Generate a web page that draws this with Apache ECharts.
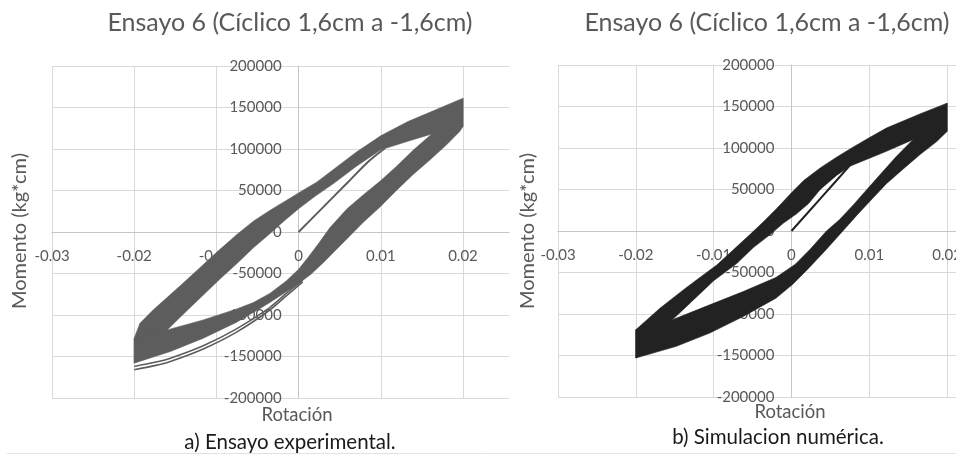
<!DOCTYPE html>
<html><head><meta charset="utf-8">
<script src="https://cdn.jsdelivr.net/npm/echarts@6/dist/echarts.min.js"></script>
<style>html,body{margin:0;padding:0;background:#fff}#c{width:956px;height:455px}</style>
</head><body><div id="c"></div>
<script>
// ---- tick labels ----
var xTickLabels = ['-0.03', '-0.02', '-0.01', '0', '0.01', '0.02'];
var yTickLabels = ['-200000', '-150000', '-100000', '-50000', '0', '50000', '100000', '150000', '200000'];

// ---- a) Ensayo experimental (rotation, moment) ----
var expUpperOuter = [[-0.02,-128000],[-0.0193,-110000],[-0.0177,-94000],[-0.016,-79000],[-0.0142,-63000],[-0.012,-43000],[-0.0098,-23000],[-0.0075,-3000],[-0.0055,13000],[-0.0035,26000],[-0.0015,38000],[0.0005,50000],[0.0022,60000],[0.0042,75000],[0.007,96000],[0.01,116000],[0.0133,133000],[0.0164,146000],[0.019,157000],[0.02,161000]];
var expUpperInner = [[-0.016,-118000],[-0.0136,-95000],[-0.0116,-76000],[-0.0096,-57000],[-0.0075,-38000],[-0.0055,-19000],[-0.0035,-2000],[-0.0018,13000],[0,28000],[0.002,43000],[0.0042,58000],[0.007,79000],[0.01,99000],[0.0135,110000],[0.0162,118000]];
var expLowerOuter = [[0.02,127000],[0.0196,121000],[0.018,105000],[0.016,87000],[0.0139,69000],[0.0119,50000],[0.0099,30000],[0.0079,12000],[0.0062,-5000],[0.0045,-22000],[0.003,-37000],[0.0015,-51000],[0,-62000],[-0.0015,-72000],[-0.0035,-85000],[-0.005,-94000],[-0.0076,-109000],[-0.0116,-128000],[-0.0156,-144000],[-0.0175,-150000],[-0.02,-158000]];
var expLowerInner = [[-0.016,-118000],[-0.0116,-106000],[-0.0076,-93000],[-0.0055,-85000],[-0.0035,-74000],[-0.0015,-59000],[0,-45000],[0.0012,-30000],[0.0025,-13000],[0.0038,5000],[0.0059,28000],[0.0079,45000],[0.0099,61000],[0.0119,79000],[0.014,99000],[0.0162,118000]];
var expInitial = [[0,0],[0.003,30000],[0.006,60000],[0.0085,85000],[0.0105,101000]];
var expFirstCycleA = [[-0.02,-166000],[-0.0175,-161000],[-0.0156,-156000],[-0.0116,-141000],[-0.0076,-121000],[-0.0035,-94000],[-0.0015,-77000],[0.0005,-60000]];
var expFirstCycleB = [[-0.02,-162000],[-0.0175,-157000],[-0.0156,-152000],[-0.0116,-137000],[-0.0076,-117000],[-0.0035,-91000],[-0.0015,-74000],[0.0005,-58000]];

// ---- b) Simulacion numerica ----
var simUpperOuter = [[-0.02,-119000],[-0.0169,-93000],[-0.0139,-71000],[-0.0122,-59000],[-0.0096,-41000],[-0.0075,-23000],[-0.0053,-4000],[-0.0036,11000],[-0.0019,27000],[0,46000],[0.0016,61000],[0.0037,76000],[0.0058,89000],[0.0079,101000],[0.0101,113000],[0.0122,124000],[0.0165,141000],[0.02,154000]];
var simUpperInner = [[-0.0153,-107000],[-0.0126,-83000],[-0.01,-60000],[-0.007,-39000],[-0.0049,-20000],[-0.0027,-4000],[-0.0011,9000],[0.0007,21000],[0.0022,33000],[0.0037,50000],[0.0058,67000],[0.0075,78000],[0.0101,88000],[0.0122,96000],[0.0156,110000]];
var simLowerOuter = [[0.02,120000],[0.0187,108000],[0.0165,92000],[0.0144,75000],[0.0122,57000],[0.0105,40000],[0.0085,20000],[0.0066,0],[0.0045,-22000],[0.0023,-44000],[0.0002,-64000],[-0.002,-81000],[-0.0062,-103000],[-0.0105,-123000],[-0.0148,-139000],[-0.02,-153000]];
var simLowerInner = [[-0.0153,-107000],[-0.0105,-89000],[-0.0062,-73000],[-0.002,-56000],[0.0005,-40000],[0.0024,-22000],[0.0045,0],[0.0062,14000],[0.008,32000],[0.0095,48000],[0.0114,68000],[0.0135,90000],[0.0156,110000]];
var simInitial = [[0,0],[0.004,42000],[0.0078,82000]];

// ---- build band polygons from the envelopes ----
function bands(uo, ui, lo, li) {
  var up = uo.concat([lo[0]], ui.slice().reverse(), [lo[lo.length - 1]]);
  var low = lo.concat([uo[0]], li, [uo[uo.length - 1]]);
  return [up, low];
}
var expBands = bands(expUpperOuter, expUpperInner, expLowerOuter, expLowerInner);
var simBands = bands(simUpperOuter, simUpperInner, simLowerOuter, simLowerInner);

var FONT = 'Lato';
var GRID = '#d9d9d9', AXIS = '#c6c6c6', TXT = '#595959';

function xFmt(v) {
  var i = Math.round((v + 0.03) / 0.01);
  if (Math.abs(v - (-0.03 + i * 0.01)) > 1e-7) return '';
  return xTickLabels[i] || '';
}
function yFmt(v) {
  var i = Math.round((v + 200000) / 50000);
  return yTickLabels[i] || '';
}
// axes are moved onto the zero lines with offsets (grid height 332 -> half 166)
function xAxis(idx, max) {
  return {
    type: 'value', gridIndex: idx, min: -0.03, max: max, interval: 0.01, position: 'bottom', offset: -166,
    axisLine: { onZero: false, lineStyle: { color: AXIS, width: 1 } },
    axisTick: { show: false },
    splitLine: { show: true, showMaxLine: false, lineStyle: { color: GRID, width: 1 } },
    axisLabel: { formatter: xFmt, color: TXT, fontFamily: FONT, fontSize: 15, margin: 17 }
  };
}
function yAxis(idx, off) {
  return {
    type: 'value', gridIndex: idx, min: -200000, max: 200000, interval: 50000, position: 'left', offset: off,
    axisLine: { onZero: false, lineStyle: { color: AXIS, width: 1 } },
    axisTick: { show: false },
    splitLine: { show: true, lineStyle: { color: GRID, width: 1 } },
    axisLabel: { formatter: yFmt, color: TXT, fontFamily: FONT, fontSize: 15, margin: 17 }
  };
}
function bandSeries(idx, polys, color) {
  return {
    type: 'custom', xAxisIndex: idx, yAxisIndex: idx, data: [0], silent: true, z: 3,
    renderItem: function (params, api) {
      return {
        type: 'group',
        children: polys.map(function (p) {
          return { type: 'polygon', shape: { points: p.map(function (pt) { return api.coord(pt); }) },
                   style: { fill: color, stroke: color, lineWidth: 0.6, lineJoin: 'round' } };
        })
      };
    }
  };
}
function lineSeries(idx, data, color, w) {
  return { type: 'line', xAxisIndex: idx, yAxisIndex: idx, data: data, showSymbol: false, smooth: 0.3,
           silent: true, z: 3, lineStyle: { color: color, width: w } };
}

var EXP = '#5d5d5d', SIM = '#222222';
var option = {
  animation: false,
  backgroundColor: '#ffffff',
  grid: [
    { left: 52, top: 66, width: 457, height: 332, outerBoundsMode: 'none', containLabel: false },
    { left: 558, top: 65, width: 428, height: 332, outerBoundsMode: 'none', containLabel: false }
  ],
  xAxis: [xAxis(0, 0.0256), xAxis(1, 0.025)],
  yAxis: [yAxis(0, -246.6), yAxis(1, -233.4)],
  series: [
    bandSeries(0, expBands, EXP),
    lineSeries(0, expInitial, EXP, 2),
    lineSeries(0, expFirstCycleA, EXP, 1.6),
    lineSeries(0, expFirstCycleB, EXP, 1.6),
    bandSeries(1, simBands, SIM),
    lineSeries(1, simInitial, SIM, 2)
  ],
  graphic: [
    { type: 'text', x: 290, y: 23, style: { text: 'Ensayo 6 (Cíclico 1,6cm a -1,6cm)', font: '25px Lato', fill: TXT, textAlign: 'center', textVerticalAlign: 'middle' } },
    { type: 'text', x: 767, y: 23, style: { text: 'Ensayo 6 (Cíclico 1,6cm a -1,6cm)', font: '25px Lato', fill: TXT, textAlign: 'center', textVerticalAlign: 'middle' } },
    { type: 'text', x: 20, y: 231, rotation: Math.PI / 2, style: { text: 'Momento (kg*cm)', font: '20px Lato', fill: TXT, textAlign: 'center', textVerticalAlign: 'middle' } },
    { type: 'text', x: 528, y: 231, rotation: Math.PI / 2, style: { text: 'Momento (kg*cm)', font: '20px Lato', fill: TXT, textAlign: 'center', textVerticalAlign: 'middle' } },
    { type: 'text', x: 297, y: 415, style: { text: 'Rotación', font: '18.5px Lato', fill: TXT, textAlign: 'center', textVerticalAlign: 'middle' } },
    { type: 'text', x: 790, y: 412, style: { text: 'Rotación', font: '18.5px Lato', fill: TXT, textAlign: 'center', textVerticalAlign: 'middle' } },
    { type: 'text', x: 290, y: 442, style: { text: 'a) Ensayo experimental.', font: '20.5px Lato', fill: '#1a1a1a', textAlign: 'center', textVerticalAlign: 'middle' } },
    { type: 'text', x: 778, y: 437, style: { text: 'b) Simulacion numérica.', font: '20.5px Lato', fill: '#1a1a1a', textAlign: 'center', textVerticalAlign: 'middle' } },
    { type: 'line', shape: { x1: 7, y1: 453.5, x2: 956, y2: 453.5 }, style: { stroke: '#e2e2e2', lineWidth: 1 } }
  ]
};
var chart = echarts.init(document.getElementById('c'), null, { renderer: 'canvas' });
chart.setOption(option);
</script></body></html>
